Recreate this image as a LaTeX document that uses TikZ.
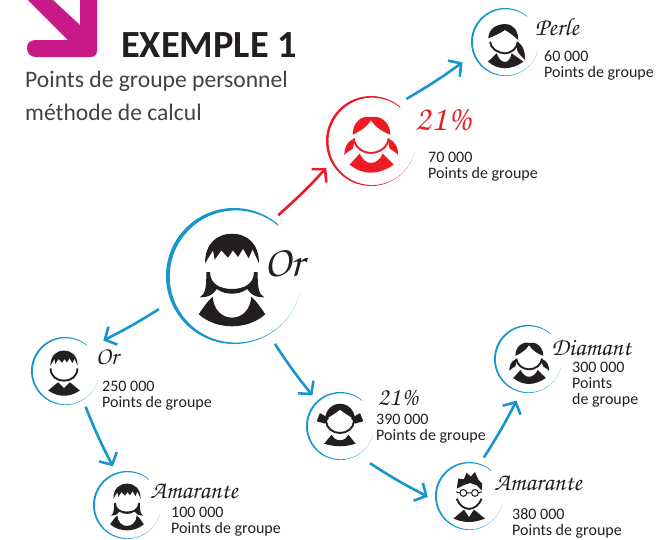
\documentclass[tikz,border=0pt]{standalone}
\usepackage{fontspec}
\setmainfont{Carlito}
\usetikzlibrary{arrows.meta}
\definecolor{ringblue}{RGB}{22,150,205}
\definecolor{ringred}{RGB}{237,28,36}
\definecolor{pinkbar}{RGB}{199,26,136}
\definecolor{ink}{RGB}{35,31,32}
\newcommand*{\handfont}{\usefont{T1}{pzc}{mb}{it}}
\tikzstyle{person} = [circle, inner sep=0pt]
\tikzstyle{points} = [anchor=west, align=left, inner sep=0pt, text=ink, font=\fontsize{16}{16}\selectfont]
\tikzstyle{hand} = [inner sep=0pt, text=ink, font=\handfont\fontsize{25}{25}\selectfont]
\tikzstyle{link} = [-{Straight Barb[length=9pt, width=20pt]}, line width=2.6pt, ringblue]
\tikzstyle{chinline} = [line width=1.9pt]
\tikzset{
    pics/hairfringe/.style={code={
        \fill (-81,50) .. controls (-81,110) and (-45,139) .. (0,139) .. controls (45,139) and (81,110) .. (81,50)
            -- (62,92) -- (50,65) -- (33,94) -- (18,69) -- (3,89) -- (-12,67) -- (-32,89) -- (-52,61) -- (-57,89) -- cycle;
    }},
    pics/longhair/.style={code={
        \fill (-77,24) .. controls (-77,-25) and (-80,-42) .. (-97,-52) .. controls (-78,-52) and (-60,-50) .. (-46,-27)
            .. controls (-30,-38) and (-15,-41) .. (0,-41) .. controls (15,-41) and (30,-38) .. (46,-27)
            .. controls (60,-50) and (78,-52) .. (97,-52) .. controls (80,-42) and (77,-25) .. (77,24) -- (66,24)
            .. controls (66,-12) and (35,-27) .. (0,-27) .. controls (-35,-27) and (-66,-12) .. (-66,24) -- cycle;
        \fill (-100,-103) .. controls (-85,-80) and (-70,-60) .. (-58,-50) .. controls (-55,-90) and (-30,-113) .. (0,-113)
            .. controls (30,-113) and (55,-90) .. (58,-50) .. controls (70,-60) and (85,-80) .. (100,-103)
            .. controls (70,-130) and (30,-139) .. (0,-139) .. controls (-30,-139) and (-70,-130) .. cycle;
    }},
    pics/shortman/.style={code={
        \draw [chinline] (-80,33) .. controls (-80,-15) and (-40,-40) .. (0,-40) .. controls (40,-40) and (80,-15) .. (80,33);
        \fill (-94,-98) -- (-35,-49) -- (0,-84) -- (35,-49) -- (94,-98) .. controls (60,-122) and (30,-129) .. (0,-129)
            .. controls (-30,-129) and (-60,-122) .. cycle;
    }},
    pics/pigtails/.style={code={
        \fill (-80,36) .. controls (-80,90) and (-40,123) .. (0,112) .. controls (40,123) and (84,90) .. (84,36)
            .. controls (60,45) and (20,65) .. (0,99) .. controls (-20,65) and (-60,45) .. cycle;
        \draw [chinline] (-75,20) .. controls (-70,-20) and (-35,-43) .. (0,-43) .. controls (35,-43) and (72,-20) .. (77,20);
        \fill (-76,17) .. controls (-108,5) and (-116,-25) .. (-116,-52) .. controls (-100,-35) and (-85,-30) .. (-80,-25) .. controls (-74,-10) and (-72,5) .. cycle;
        \fill (78,17) .. controls (110,5) and (118,-25) .. (118,-52) .. controls (102,-35) and (87,-30) .. (82,-25) .. controls (76,-10) and (74,5) .. cycle;
        \fill (-93,-94) -- (-49,-46) .. controls (-40,-70) and (-20,-87) .. (0,-87) .. controls (20,-87) and (42,-70) .. (51,-46) -- (99,-94)
            .. controls (60,-120) and (30,-129) .. (0,-129) .. controls (-30,-129) and (-60,-120) .. cycle;
    }},
    pics/sidetail/.style={code={
        \fill (-98,45) .. controls (-98,100) and (-50,129) .. (0,129) .. controls (50,129) and (78,90) .. (78,35)
            .. controls (50,60) and (25,80) .. (0,94) .. controls (-30,75) and (-70,55) .. cycle;
        \draw [chinline] (-88,25) .. controls (-85,-15) and (-40,-43) .. (0,-43) .. controls (35,-43) and (72,-15) .. (75,25);
        \fill (70,25) .. controls (110,10) and (120,-50) .. (118,-82) .. controls (95,-60) and (75,-40) .. (72,-25) -- cycle;
        \fill (-100,-92) -- (-49,-43) .. controls (-40,-72) and (-20,-94) .. (0,-94) .. controls (20,-94) and (32,-72) .. (39,-43) -- (108,-92)
            .. controls (70,-120) and (30,-131) .. (0,-131) .. controls (-30,-131) and (-70,-120) .. cycle;
    }},
    pics/bows/.style={code={
        \fill (-88,30) .. controls (-88,90) and (-45,125) .. (0,125) .. controls (45,125) and (88,90) .. (88,30)
            .. controls (60,50) and (25,70) .. (0,90) .. controls (-25,70) and (-60,50) .. cycle;
        \fill (-65,40) -- (-118,70) -- (-137,22) -- (-88,8) -- cycle;
        \fill (65,40) -- (118,70) -- (137,22) -- (88,8) -- cycle;
        \draw [chinline] (-82,22) .. controls (-80,-20) and (-40,-47) .. (0,-47) .. controls (40,-47) and (80,-20) .. (82,22);
        \fill (-94,-110) -- (-49,-57) .. controls (-40,-78) and (-20,-90) .. (0,-90) .. controls (20,-90) and (40,-78) .. (49,-57) -- (92,-110)
            .. controls (60,-120) and (30,-125) .. (0,-125) .. controls (-30,-125) and (-60,-120) .. cycle;
    }},
    pics/glasses/.style={code={
        \fill (-72,49) -- (-63,108) -- (-30,105) -- (-14,143) -- (10,120) -- (35,147) -- (55,102) -- (78,78) -- (74,39)
            -- (45,69) -- (6,82) -- (-33,69) -- cycle;
        \draw [line width=1pt] (-33,24) circle [radius=20] (35,24) circle [radius=20] (-13,24) -- (15,24) (-53,24) -- (-75,30) (55,24) -- (75,30);
        \draw [chinline] (-72,-10) .. controls (-60,-45) and (-30,-70) .. (0,-70) .. controls (30,-70) and (62,-45) .. (74,-10);
        \fill (-92,-127) -- (-29,-74) -- (0,-118) -- (29,-74) -- (94,-127) .. controls (60,-140) and (30,-147) .. (0,-147)
            .. controls (-30,-147) and (-60,-140) .. cycle;
    }}
}

\begin{document}
\begin{tikzpicture}[x=1pt, y=1pt]
    \useasboundingbox (0,0) rectangle (658,-539);

    % Heading.
    \fill [pinkbar] (53,0) -- (80,-25) -- (80,0) -- (97,0) -- (97,-50) .. controls (97,-55) and (95,-57) .. (90,-57)
        -- (36,-57) .. controls (30,-57) and (27,-53) .. (27,-48) .. controls (27,-43) and (30,-40) .. (36,-40) -- (68,-40) -- (28,0) -- cycle;
    \node (title) [anchor=base west, inner sep=0pt, text=ink, font=\bfseries\fontsize{38.4}{38}\selectfont] at (121,-57) {EXEMPLE 1};
    \node (subtitle) [anchor=north west, align=left, inner sep=0pt, text=ink!85, font=\fontsize{23.6}{32.5}\selectfont] at (25,-71) {Points de groupe personnel\\méthode de calcul};

    % Persons.
    \foreach \n/\x/\y/\r/\c in {gold/234/276/68/ringblue, ruby/371/141/45/ringred, pearl/505/42/34/ringblue,
        goldleft/65/371/34/ringblue, amaleft/127/505/34/ringblue, share/340/426/34/ringblue,
        amaright/469/496/34/ringblue, diamond/528/359/34/ringblue} {
        \node (\n) [person, minimum size={2pt*(\r+7)}] at (\x,-\y) {};
        \fill [\c] (\n.center) ++(50:\r) arc [start angle=50, end angle=345, radius=\r]
            arc [start angle=345, end angle=50, radius=\r*0.972] -- cycle;
    }

    % Faces.
    \begin{scope}[color=ink]
        \pic [scale=0.333] at (232,-280) {hairfringe};
        \pic [scale=0.333] at (232,-280) {longhair};
        \pic [scale=0.168] at (127,-507) {hairfringe};
        \pic [scale=0.168] at (127,-507) {longhair};
        \pic [scale=0.168] at (64,-374) {hairfringe};
        \pic [scale=0.168] at (64,-374) {shortman};
        \pic [scale=0.17] at (505,-46) {sidetail};
        \pic [scale=0.17] at (340,-425) {bows};
        \pic [scale=0.17] at (469,-497) {glasses};
        \pic [scale=0.17] at (529,-362) {pigtails};
    \end{scope}
    \pic [color=ringred, scale=0.23] at (371,-143) {pigtails};

    % Handwritten labels.
    \node (goldname) [hand, font=\handfont\fontsize{44}{44}\selectfont] at (284,-263) {Or};
    \node (rubyshare) [hand, text=ringred, font=\handfont\fontsize{36}{36}\selectfont] at (443,-120) {21\%};
    \node (pearlname) [hand] at (557,-27) {Perle};
    \node (leftname) [hand] at (107,-357) {Or};
    \node (amaleftname) [hand] at (194,-491) {Amarante};
    \node (sharename) [hand, font=\handfont\fontsize{26}{26}\selectfont] at (398,-398) {21\%};
    \node (amarightname) [hand] at (538,-483) {Amarante};
    \node (diamondname) [hand] at (591,-347) {Diamant};

    % Points.
    \node (rubypts) [points] at (428,-167) {70 000\\Points de groupe};
    \node (pearlpts) [points] at (544,-65) {60 000\\Points de groupe};
    \node (leftpts) [points] at (102,-396) {250 000\\Points de groupe};
    \node (amaleftpts) [points] at (171,-522) {100 000\\Points de groupe};
    \node (sharepts) [points] at (376,-429) {390 000\\Points de groupe};
    \node (amarightpts) [points] at (512,-523) {380 000\\Points de groupe};
    \node (diamondpts) [points] at (572,-385) {300 000\\Points\\de groupe};

    % Arrows.
    \draw [link, ringred] (gold.54) to [bend right=3] (ruby.211);
    \draw [link, shorten <=3pt, shorten >=6pt] (ruby.51) to [bend right=3] (pearl.204);
    \draw [link, shorten <=7pt, shorten >=8pt] (gold.203) to [bend left=3] (goldleft.41);
    \draw [link] (goldleft.-60) to [bend right=3] (amaleft.110);
    \draw [link, shorten <=4pt] (gold.-59) to [bend right=3] (share.132);
    \draw [link, shorten <=7pt] (share.-54) to [bend right=3] (amaright.181);
    \draw [link, shorten >=2pt] (amaright.69) to [bend right=3] (diamond.255);
\end{tikzpicture}
\end{document}
